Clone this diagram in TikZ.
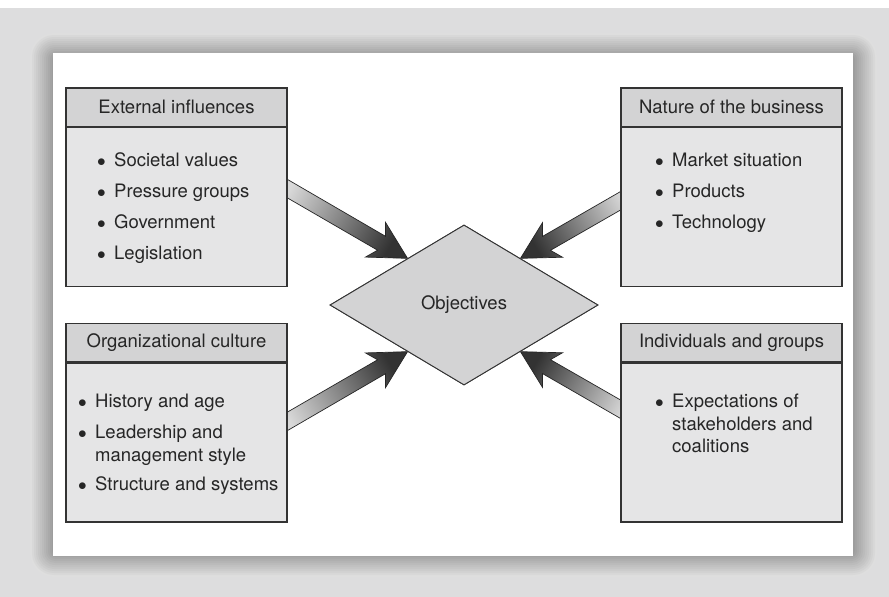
\documentclass[tikz,border=0pt]{standalone}
\usepackage{fontspec}
\setmainfont{TeX Gyre Heros}
\usetikzlibrary{shapes.geometric,calc,positioning}
\definecolor{bggray}{HTML}{DDDDDE}
\definecolor{headgray}{HTML}{D3D3D4}
\definecolor{bodygray}{HTML}{E5E5E6}
\definecolor{linegray}{HTML}{333333}
\tikzset{
    boxhead/.style={draw=linegray, line width=1.2pt, fill=headgray, minimum width=221pt, minimum height=38.5pt, inner sep=0pt, font=\fontsize{18.5}{22.5}\selectfont, text=black!85},
    boxbody/.style={draw=linegray, line width=1.2pt, fill=bodygray, minimum width=221pt, minimum height=159pt, inner sep=0pt},
    itemtext/.style={anchor=north west, inner sep=0pt, align=left, font=\fontsize{18.5}{22.5}\selectfont, text=black!85},
    fatarrow/.style={draw=black!85, line width=0.7pt, top color=black!80, bottom color=black!15, line join=miter}
}
\newcommand{\itm}{\makebox[17pt][l]{$\bullet$}}
\newcommand{\fatarrow}[3]{%
    \coordinate (fa base) at ($(#2)!30pt!(#1)$);
    \coordinate (fa wing) at ($(#2)!37pt!(#1)$);
    \shadedraw[fatarrow, shading angle=#3]
        ($(#1)!8pt!90:(#2)$) -- ($(fa base)!8pt!90:(#2)$) -- ($(fa wing)!20pt!90:(#2)$) -- (#2)
        -- ($(fa wing)!20pt!-90:(#2)$) -- ($(fa base)!8pt!-90:(#2)$) -- ($(#1)!8pt!-90:(#2)$) -- cycle;
}

\begin{document}
\begin{tikzpicture}[x=1pt, y=-1pt]
    \useasboundingbox (0, 0) rectangle (889, 597);
    \fill[bggray] (0, 8) rectangle (889, 597);
    \foreach \i [evaluate=\i as \c using 13+2.3*\i, evaluate=\i as \r using 24-1.8*\i] in {0, ..., 11} {
        \fill[black!\c, rounded corners=\r pt] (30+2*\i, 33+2*\i) rectangle (877-2*\i, 577-2*\i);
    }
    \fill[white] (53, 53) rectangle (853, 556);

    \node[diamond, draw=linegray, line width=0.9pt, fill=headgray, minimum width=268pt, minimum height=160pt, inner sep=0pt, font=\fontsize{18.5}{22.5}\selectfont, text=black!85] (obj) at (464, 305) {};

    \coordinate (tip ext) at ($(obj.west)!0.58!(obj.north)$);
    \coordinate (tip nat) at ($(obj.east)!0.58!(obj.north)$);
    \coordinate (tip org) at ($(obj.west)!0.58!(obj.south)$);
    \coordinate (tip ind) at ($(obj.east)!0.58!(obj.south)$);
    \coordinate (tail ext) at ($(tip ext)+(-131, -76)$);
    \coordinate (tail nat) at ($(tip nat)+(113, -65)$);
    \coordinate (tail org) at ($(tip org)+(-131, 76)$);
    \coordinate (tail ind) at ($(tip ind)+(113, 65)$);
    \fatarrow{tail ext}{tip ext}{-120}
    \fatarrow{tail nat}{tip nat}{120}
    \fatarrow{tail org}{tip org}{-60}
    \fatarrow{tail ind}{tip ind}{60}

    \node[diamond, draw=linegray, line width=0.9pt, fill=headgray, minimum width=268pt, minimum height=160pt, inner sep=0pt, font=\fontsize{18.5}{22.5}\selectfont, text=black!85] (obj) at (464, 305) {Objectives};

    \node[boxhead] (ext head) at (176.5, 107.25) {External influences};
    \node[boxbody, below=0pt of ext head] (ext body) {};
    \node[boxhead] (nat head) at (731.5, 107.25) {Nature of the business};
    \node[boxbody, below=0pt of nat head] (nat body) {};
    \node[boxhead] (org head) at (176.5, 342.5) {Organizational culture};
    \node[boxbody, below=0pt of org head] (org body) {};
    \node[boxhead] (ind head) at (731.5, 342.5) {Individuals and groups};
    \node[boxbody, below=0pt of ind head] (ind body) {};

    \node[itemtext] (ext items) at (97, 152.5) {\itm Societal values\\[8.5pt]\itm Pressure groups\\[8.5pt]\itm Government\\[8.5pt]\itm Legislation};
    \node[itemtext] (nat items) at (655, 152.5) {\itm Market situation\\[8.5pt]\itm Products\\[8.5pt]\itm Technology};
    \node[itemtext] (org items) at (78, 394) {\itm History and age\\[8.5pt]\itm Leadership and\\\hspace*{17pt}management style\\[6.5pt]\itm Structure and systems};
    \node[itemtext] (ind items) at (655, 394) {\itm Expectations of\\\hspace*{17pt}stakeholders and\\\hspace*{17pt}coalitions};
\end{tikzpicture}
\end{document}
